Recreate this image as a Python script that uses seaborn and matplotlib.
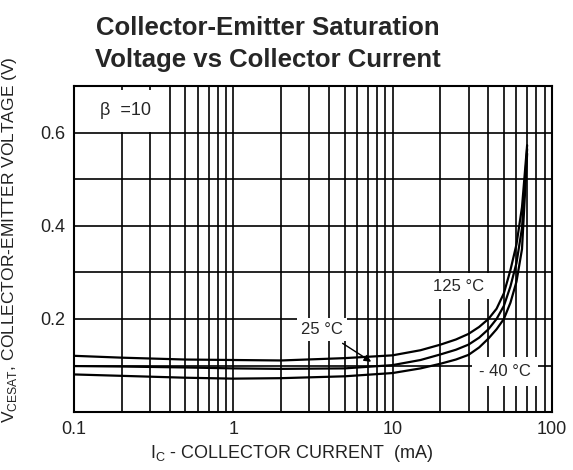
"""Collector-emitter saturation voltage vs collector current (datasheet style)."""

import matplotlib

matplotlib.use("Agg")

import matplotlib.pyplot as plt
import pandas as pd
import seaborn as sns
from matplotlib.ticker import FixedLocator, LogLocator, NullFormatter

# collector current in mA
current_ma = [0.1, 0.2, 0.5, 1, 2, 5, 10, 15, 20, 25, 30, 35, 40, 45, 50, 55, 60, 65, 70]
vce_125c = [0.121, 0.117, 0.113, 0.112, 0.111, 0.116, 0.122, 0.133, 0.145, 0.156, 0.168, 0.183, 0.200, 0.222, 0.255, 0.305, 0.360, 0.440, 0.573]
vce_25c = [0.099, 0.098, 0.096, 0.094, 0.093, 0.094, 0.101, 0.112, 0.124, 0.134, 0.145, 0.160, 0.178, 0.200, 0.228, 0.270, 0.320, 0.395, 0.565]
vce_m40c = [0.081, 0.078, 0.074, 0.072, 0.073, 0.077, 0.084, 0.094, 0.104, 0.113, 0.123, 0.139, 0.158, 0.178, 0.200, 0.235, 0.280, 0.350, 0.555]

x_ticks = [0.1, 1, 10, 100]
x_tick_labels = ["0.1", "1", "10", "100"]
y_ticks = [0.0, 0.1, 0.2, 0.3, 0.4, 0.5, 0.6, 0.7]
y_tick_labels = ["", "", "0.2", "", "0.4", "", "0.6", ""]

frame = pd.concat(
    [
        pd.DataFrame({"ic": current_ma, "vce": vce_125c, "temp": "125 °C"}),
        pd.DataFrame({"ic": current_ma, "vce": vce_25c, "temp": "25 °C"}),
        pd.DataFrame({"ic": current_ma, "vce": vce_m40c, "temp": "-40 °C"}),
    ],
    ignore_index=True,
)

sns.set_theme(style="white")
plt.rcParams["font.family"] = ["Liberation Sans", "DejaVu Sans"]
plt.rcParams["mathtext.fontset"] = "custom"
plt.rcParams["mathtext.rm"] = "Liberation Sans"

fig = plt.figure(figsize=(5.73, 4.70), dpi=100)
ax = fig.add_axes([0.129, 0.123, 0.834, 0.694])

sns.lineplot(
    data=frame,
    x="ic",
    y="vce",
    hue="temp",
    palette={"125 °C": "black", "25 °C": "black", "-40 °C": "black"},
    estimator=None,
    sort=False,
    legend=False,
    linewidth=1.6,
    ax=ax,
    zorder=3,
)

ax.set_xscale("log")
ax.set_xlim(0.1, 100)
ax.set_ylim(0, 0.7)
ax.xaxis.set_major_locator(FixedLocator(x_ticks))
ax.set_xticklabels(x_tick_labels)
ax.xaxis.set_minor_locator(LogLocator(base=10, subs=range(2, 10)))
ax.xaxis.set_minor_formatter(NullFormatter())
ax.set_yticks(y_ticks)
ax.set_yticklabels(y_tick_labels)
ax.tick_params(which="both", length=0, labelsize=13, colors="#222222", pad=6)

ax.set_axisbelow(True)
ax.grid(True, which="both", color="black", linewidth=1.2)
for spine in ax.spines.values():
    spine.set_color("black")
    spine.set_linewidth(1.5)

ax.set_xlabel(r"I$_\mathregular{C}$ - COLLECTOR CURRENT  (mA)", fontsize=13, color="#222222")
ax.xaxis.set_label_coords(0.456, -0.095)
ax.set_ylabel(r"V$_\mathregular{CESAT}$, COLLECTOR-EMITTER VOLTAGE (V)", fontsize=12.5, color="#222222")
ax.yaxis.set_label_coords(-0.115, 0.53)


def label(x, y, text, pad, size=12):
    ax.text(x, y, text, fontsize=size, ha="center", va="center", zorder=2,
            bbox=dict(facecolor="white", edgecolor="none", pad=pad))


label(0.21, 0.647, "β  =10", 9, size=13)
label(3.6, 0.177, "25 °C", 3)
label(25.8, 0.27, "125 °C", 4)
label(50.8, 0.087, "- 40 °C", 5)
ax.annotate(
    "",
    xy=(7.6, 0.105),
    xytext=(4.7, 0.151),
    arrowprops=dict(arrowstyle="-|>", color="black", lw=1.0, mutation_scale=10),
    zorder=4,
)

fig.text(
    0.468,
    0.906,
    "Collector-Emitter Saturation\nVoltage vs Collector Current",
    fontsize=18.5,
    fontweight="bold",
    ha="center",
    va="center",
    linespacing=1.45,
)

fig.savefig("out.png", dpi=100)
plt.close(fig)
